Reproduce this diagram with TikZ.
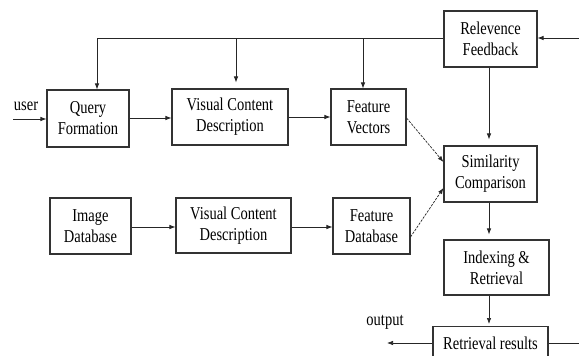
\documentclass[tikz,border=0pt]{standalone}
\usepackage{fontspec}
\setmainfont{Liberation Serif}
\usetikzlibrary{arrows.meta}
\newcommand{\vt}[1]{\scalebox{1}[1.25]{#1}}
\begin{document}
\begin{tikzpicture}[x=1pt,y=-1pt,
  box/.style={draw=black!80,line width=1.1pt,rectangle,inner sep=0pt,align=center,
    font=\fontsize{14.5}{21}\selectfont,fill=white},
  lbl/.style={inner sep=0pt,font=\fontsize{14.5}{21}\selectfont},
  arr/.style={draw=black!85,line width=0.7pt,-{Latex[length=6pt,width=4.5pt]}},
  ln/.style={draw=black!85,line width=0.7pt},
  darr/.style={arr,dash pattern=on 2.5pt off 1.2pt}]
\useasboundingbox[fill=white] (0,0) rectangle (579,356);
% boxes
\node[box,minimum width=82pt,minimum height=57pt] (qf) at (88,118.5) {\vt{Query}\\\vt{Formation}};
\node[box,minimum width=116pt,minimum height=56pt] (vcd1) at (230,117) {\vt{Visual Content}\\\vt{Description}};
\node[box,minimum width=75pt,minimum height=56pt] (fv) at (368.5,117) {\vt{Feature}\\\vt{Vectors}};
\node[box,minimum width=93pt,minimum height=56pt] (rf) at (490.5,39) {\vt{Relevence}\\\vt{Feedback}};
\node[box,minimum width=93pt,minimum height=56pt] (sc) at (490.5,174) {\vt{Similarity}\\\vt{Comparison}};
\node[box,minimum width=81pt,minimum height=56pt] (id) at (90.5,226) {\vt{Image}\\\vt{Database}};
\node[box,minimum width=115pt,minimum height=55pt] (vcd2) at (233.5,225.5) {\vt{Visual Content}\\\vt{Description}};
\node[box,minimum width=77pt,minimum height=56pt] (fdb) at (371.5,226) {\vt{Feature}\\\vt{Database}};
\node[box,minimum width=105pt,minimum height=55pt] (ir) at (496.5,267.5) {\vt{Indexing \&}\\\vt{Retrieval}};
\node[box,minimum width=115pt,minimum height=36pt,anchor=north] (rr) at (490.5,326) {\raisebox{3pt}{\vt{Retrieval results}}};
% labels
\node[lbl] (user) at (26,106) {\vt{user}};
\node[lbl] (outl) at (385,322) {\vt{output}};
% coordinates
\coordinate (uin) at (13,119);
\coordinate (f1) at (97,38);
\coordinate (f2) at (236,38);
\coordinate (f3) at (363,38);
\coordinate (rin) at (579,38);
\coordinate (rout) at (579,343);
\coordinate (out) at (387,343);
% connectors
\draw[arr] (uin) -- (uin -| qf.west);
\draw[arr] (qf.east |- 0,118) -- (vcd1.west |- 0,118);
\draw[arr] (vcd1.east |- 0,117) -- (fv.west |- 0,117);
\draw[arr] (id.east |- 0,227) -- (vcd2.west |- 0,227);
\draw[arr] (vcd2.east |- 0,227) -- (fdb.west |- 0,227);
\draw[ln] (rf.west |- f1) -- (f1);
\draw[arr] (f1) -- (f1 |- qf.north);
\draw[arr,shorten >=6pt] (f2) -- (f2 |- vcd1.north);
\draw[arr] (f3) -- (f3 |- fv.north);
\draw[arr] (rin) -- (rf.east |- rin);
\draw[arr,shorten >=6pt] (rf.south -| 489,0) -- (sc.north -| 489,0);
\draw[arr,shorten >=5pt] (sc.south -| 489,0) -- (ir.north -| 489,0);
\draw[arr,shorten >=2pt] (ir.south -| 489,0) -- (rr.north -| 489,0);
\draw[darr] (fv.east |- 0,118) -- (sc.west |- 0,162);
\draw[darr] (fdb.east |- 0,237) -- (sc.west |- 0,188);
\draw[ln] (rr.east |- rout) -- (rout);
\draw[arr] (rr.west |- out) -- (out);
\end{tikzpicture}
\end{document}
